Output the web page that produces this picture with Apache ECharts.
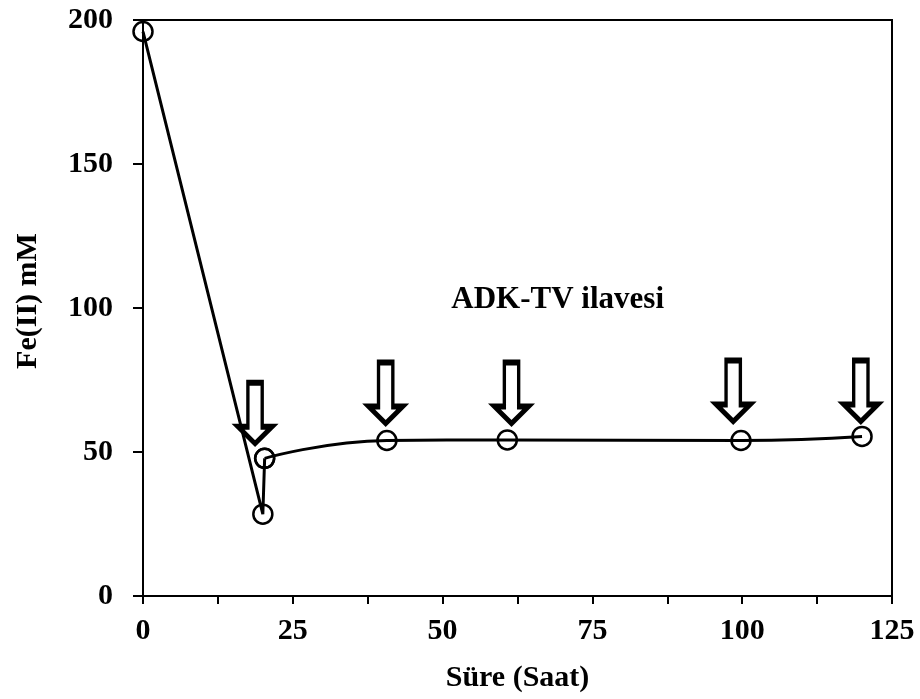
<!DOCTYPE html>
<html>
<head>
<meta charset="utf-8">
<script src="https://cdn.jsdelivr.net/npm/echarts@6/dist/echarts.min.js"></script>
<style>html,body{margin:0;padding:0;background:#fff}#c{width:920px;height:699px}</style>
</head>
<body>
<div id="c"></div>
<script>
// Drop segment (straight line)
const timeDrop = [0, 20, 20.3];
const feDrop = [196, 28.4, 47.8];
// After additions (smoothed line)
const timeAfter = [20.3, 40.7, 60.8, 99.8, 120];
const feAfter = [47.8, 54, 54.2, 54, 55.4];
// ADK-TV addition arrows (tip positions)
const arrowTime = [18.7, 40.5, 61.5, 98.5, 119.8];
const arrowTip = [52.9, 59.9, 59.9, 60.6, 60.6];
// Annotation
const noteText = 'ADK-TV ilavesi';
const notePos = [69.2, 102.8];
// Axis
const xTicks = [0, 25, 50, 75, 100, 125];
const yTicks = [0, 50, 100, 150, 200];

const FONT = 'Liberation Serif';
const chart = echarts.init(document.getElementById('c'));
const pair = (a, b) => a.map((v, i) => [v, b[i]]);
const arrowPath = 'path://M11 0 L27 0 L27 47 L38 47 L19 65 L0 47 L11 47 Z';

chart.setOption({
  backgroundColor: '#fff',
  animation: false,
  grid: { left: 143, right: 28, top: 20, bottom: 103, show: true, borderColor: '#000', borderWidth: 2, backgroundColor: 'transparent' },
  xAxis: {
    type: 'value', min: xTicks[0], max: xTicks[xTicks.length - 1], interval: 25,
    name: 'Süre (Saat)', nameLocation: 'middle', nameGap: 67,
    nameTextStyle: { fontFamily: FONT, fontWeight: 'bold', fontSize: 30, color: '#000' },
    axisLine: { show: true, onZero: false, lineStyle: { color: '#000', width: 2 } },
    axisTick: { show: true, length: 8, lineStyle: { color: '#000', width: 2 } },
    minorTick: { show: true, splitNumber: 2, length: 8, lineStyle: { color: '#000', width: 2 } },
    splitLine: { show: false },
    axisLabel: { margin: 20, fontFamily: FONT, fontWeight: 'bold', fontSize: 30, color: '#000' }
  },
  yAxis: {
    type: 'value', min: yTicks[0], max: yTicks[yTicks.length - 1], interval: 50,
    name: 'Fe(II) mM', nameLocation: 'middle', nameGap: 100, nameRotate: 90,
    nameTextStyle: { fontFamily: FONT, fontWeight: 'bold', fontSize: 30, color: '#000', padding: [0, 0, 0, 14] },
    axisLine: { show: true, onZero: false, lineStyle: { color: '#000', width: 2 } },
    axisTick: { show: true, length: 10, lineStyle: { color: '#000', width: 2 } },
    splitLine: { show: false },
    axisLabel: { margin: 30, fontFamily: FONT, fontWeight: 'bold', fontSize: 30, color: '#000' }
  },
  series: [
    {
      type: 'line', data: pair(timeDrop, feDrop), smooth: false,
      symbol: 'circle', symbolSize: 19,
      lineStyle: { color: '#000', width: 3 },
      itemStyle: { color: 'rgba(0,0,0,0)', borderColor: '#000', borderWidth: 2.5 },
      z: 3
    },
    {
      type: 'line', data: pair(timeAfter, feAfter), smooth: 0.5,
      symbol: 'circle', symbolSize: 19,
      lineStyle: { color: '#000', width: 3 },
      itemStyle: { color: 'rgba(0,0,0,0)', borderColor: '#000', borderWidth: 2.5 },
      z: 3
    },
    {
      type: 'scatter', data: pair(arrowTime, arrowTip),
      symbol: arrowPath, symbolSize: [34, 61], symbolOffset: [0, '-50%'],
      itemStyle: { color: '#fff', borderColor: '#000', borderWidth: 4.5, opacity: 1 },
      z: 4
    },
    {
      type: 'scatter', data: [notePos], symbolSize: 0,
      itemStyle: { opacity: 1 },
      label: { show: true, position: 'inside', formatter: noteText, fontFamily: FONT, fontWeight: 'bold', fontSize: 31, color: '#000', opacity: 1 },
      z: 5
    }
  ]
});
</script>
</body>
</html>
